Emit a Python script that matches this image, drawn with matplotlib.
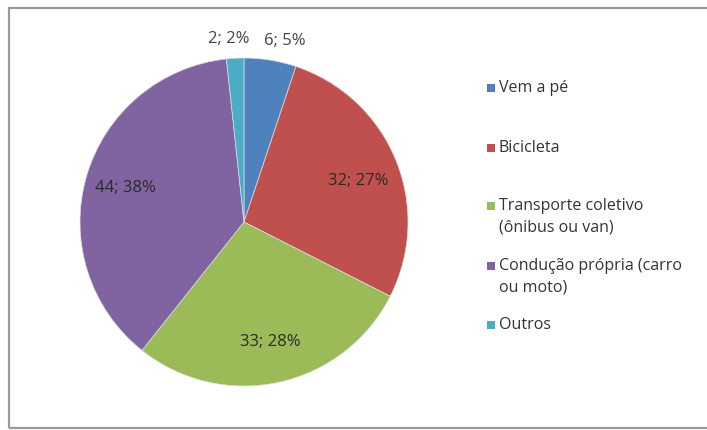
import numpy as np
import matplotlib
matplotlib.use("Agg")
import matplotlib.pyplot as plt
from matplotlib.patches import Rectangle

categories = ["Vem a pé", "Bicicleta", "Transporte coletivo\n(ônibus ou van)",
              "Condução própria (carro\nou moto)", "Outros"]
values = [6, 32, 33, 44, 2]
percents = [5, 27, 28, 38, 2]
colors = ["#4F81BD", "#C0504D", "#9BBB59", "#8064A2", "#4BACC6"]

plt.rcParams['font.family'] = ['Open Sans', 'DejaVu Sans']

W, H = 707, 430
fig = plt.figure(figsize=(W / 100, H / 100), dpi=100)
fig.patch.set_facecolor("white")

# outer frame
fig.add_artist(Rectangle((9 / W, (H - 428) / H), (W + 5 - 9) / W, (428 - 8) / H,
                         transform=fig.transFigure, fill=False,
                         edgecolor="#9a9a9a", linewidth=1.6))

cx, cy, r = 244, 222, 164
ax = fig.add_axes([(cx - r) / W, (H - cy - r) / H, 2 * r / W, 2 * r / H])

wedges, _ = ax.pie(values, colors=colors, startangle=90, counterclock=False,
                   radius=1, wedgeprops=dict(linewidth=0.5, edgecolor="#dddddd"))
ax.set_xlim(-1, 1)
ax.set_ylim(-1, 1)
ax.set_aspect("auto")
ax.axis("off")

labels = [f"{v}; {p}%" for v, p in zip(values, percents)]
total = sum(values)
cum = np.cumsum([0] + values)
inside = [False, True, True, True, False]
xoffs = [8, 0, 0, 0, -4]
yoffs = [0, -4, 0, 0, 0]
for i, lab in enumerate(labels):
    mid = 90 - (cum[i] + values[i] / 2) / total * 360
    rad = np.deg2rad(mid)
    d = 0.75 if inside[i] else 1.12
    x, y = d * np.cos(rad), d * np.sin(rad)
    ax.annotate(lab, xy=(x, y), xytext=(xoffs[i], yoffs[i]), textcoords="offset points",
                ha="center", va="center", fontsize=12,
                color="#444444" if not inside[i] else "#2a2a2a",
                annotation_clip=False)

# legend
leg_y = [88, 148, 206, 266, 325]
for lab, c, y in zip(categories, colors, leg_y):
    fig.add_artist(Rectangle((487 / W, (H - y - 4) / H), 8 / W, 8 / H,
                             transform=fig.transFigure, facecolor=c, edgecolor="none"))
    for k, line in enumerate(lab.split("\n")):
        fig.text(499 / W, (H - y - 21 * k) / H, line, ha="left", va="center",
                 fontsize=11.5, color="#333333")

fig.savefig("out.png", dpi=100, facecolor="white")
